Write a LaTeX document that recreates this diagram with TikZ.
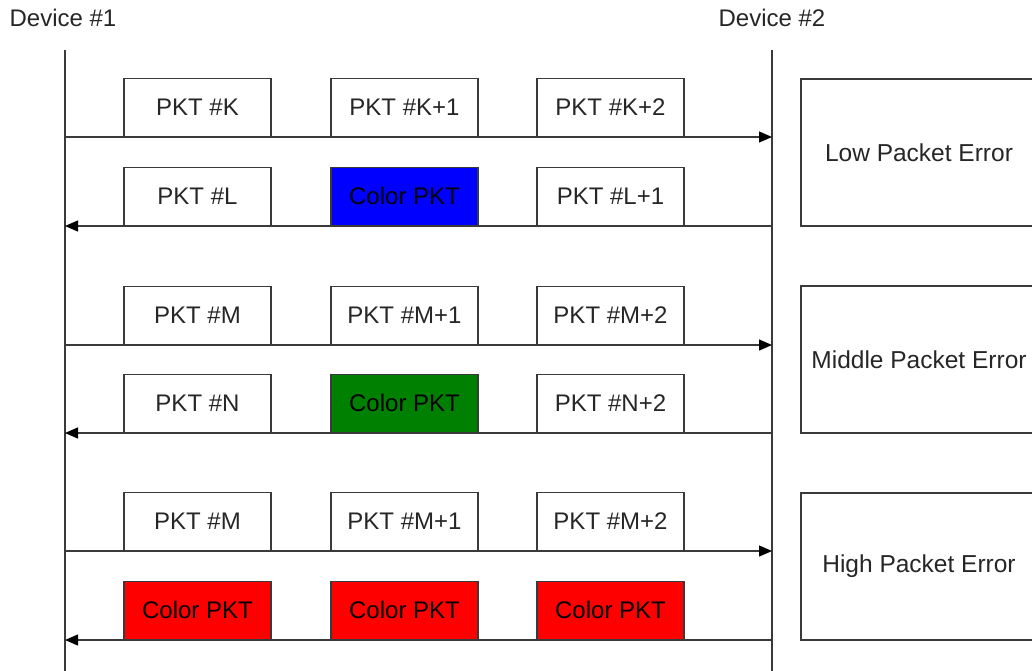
\documentclass[tikz,border=0pt]{standalone}
\usepackage{fontspec}
\setmainfont{Liberation Sans}
\usetikzlibrary{arrows.meta}
\definecolor{ln}{HTML}{3A3A3A}
\definecolor{tx}{HTML}{262626}
\tikzset{
  pkt/.style={draw=ln, line width=1.2pt, minimum width=147pt, minimum height=58pt, inner sep=0pt, anchor=south, text=tx, font=\fontsize{24}{28}\selectfont},
  errbox/.style={draw=ln, line width=1.2pt, minimum width=236pt, minimum height=147pt, inner sep=0pt, text=tx, font=\fontsize{24.5}{28}\selectfont},
  lifeline/.style={draw=ln, line width=1.3pt},
  msg/.style={draw=ln, line width=1.3pt, -{Triangle[length=13pt,width=11pt,color=black]}},
  lbl/.style={text=tx, font=\fontsize{24}{28}\selectfont, inner sep=0pt}
}
\begin{document}
\begin{tikzpicture}[x=1pt,y=-1pt]
\useasboundingbox (0,0) rectangle (1032,670);
\clip (0,0) rectangle (1032,670);
\node[lbl] (d1) at (63,18) {Device \#1};
\node[lbl] (d2) at (772,18) {Device \#2};
\coordinate (t1) at (65,50); \coordinate (b1) at (65,672);
\coordinate (t2) at (772,50); \coordinate (b2) at (772,672);
\draw[lifeline] (t1) -- (b1);
\draw[lifeline] (t2) -- (b2);
% arrows
\foreach \y/\n in {137/1,226/2,345/3,433/4,551/5,640/6}{
  \coordinate (L\n) at (65,\y);
  \coordinate (R\n) at (772,\y);
}
\draw[msg] (L1) -- (R1);
\draw[msg] (R2) -- (L2);
\draw[msg] (L3) -- (R3);
\draw[msg] (R4) -- (L4);
\draw[msg] (L5) -- (R5);
\draw[msg] (R6) -- (L6);
% packets
\node[pkt] (k0) at (197.5,137) {PKT \#K};
\node[pkt] (k1) at (404.5,137) {PKT \#K+1};
\node[pkt] (k2) at (610.5,137) {PKT \#K+2};
\node[pkt] (l0) at (197.5,226) {PKT \#L};
\node[pkt, fill={rgb,255:red,0;green,0;blue,255}, text=black] (c1) at (404.5,226) {Color PKT};
\node[pkt] (l1) at (610.5,226) {PKT \#L+1};
\node[pkt] (m0) at (197.5,345) {PKT \#M};
\node[pkt] (m1) at (404.5,345) {PKT \#M+1};
\node[pkt] (m2) at (610.5,345) {PKT \#M+2};
\node[pkt] (n0) at (197.5,433) {PKT \#N};
\node[pkt, fill={rgb,255:red,0;green,128;blue,0}, text=black] (c2) at (404.5,433) {Color PKT};
\node[pkt] (n2) at (610.5,433) {PKT \#N+2};
\node[pkt] (h0) at (197.5,551) {PKT \#M};
\node[pkt] (h1) at (404.5,551) {PKT \#M+1};
\node[pkt] (h2) at (610.5,551) {PKT \#M+2};
\node[pkt, fill={rgb,255:red,255;green,0;blue,0}, text=black] (r0) at (197.5,640) {Color PKT};
\node[pkt, fill={rgb,255:red,255;green,0;blue,0}, text=black] (r1) at (404.5,640) {Color PKT};
\node[pkt, fill={rgb,255:red,255;green,0;blue,0}, text=black] (r2) at (610.5,640) {Color PKT};
% error boxes
\node[errbox] (e1) at (919,152.5) {Low Packet Error};
\node[errbox] (e2) at (919,359.5) {Middle Packet Error};
\node[errbox] (e3) at (919,566.5) {High Packet Error};
\end{tikzpicture}
\end{document}
